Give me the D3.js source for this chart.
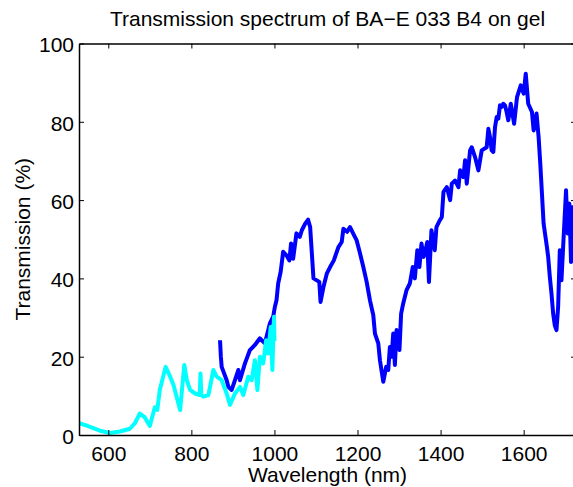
<!DOCTYPE html>
<html>
<head>
<meta charset="utf-8">
<script src="https://cdn.jsdelivr.net/npm/d3@7"></script>
<style>
  body { margin: 0; background: #fff; }
  svg { display: block; }
  text { font-family: "Liberation Sans", Arial, sans-serif; }
</style>
</head>
<body>
<div id="chart"></div>
<script>
// data (wavelength nm, transmission %)
var visWavelength = [530, 545, 556, 580, 604, 628, 652, 664, 676, 688, 700, 712, 718, 724, 738, 749, 757, 773,
  783, 789, 797, 809, 820, 822, 824, 829, 841, 853, 861, 873, 885, 893, 905, 917, 925, 937, 945, 953, 959,
  965, 973, 980, 985, 991, 995, 999, 1000];
var visTransmission = [3.0, 2.5, 2.1, 1.1, 0.5, 0.9, 1.6, 3.0, 5.5, 4.5, 2.3, 7.1, 6.4, 11.5, 17.4, 14.9, 12.8, 6.4,
  17.9, 14.0, 11.5, 10.6, 10.2, 15.7, 10.2, 9.8, 10.2, 16.6, 14.9, 14.0, 10.6, 7.7, 10.6, 12.3, 10.2, 14.9, 14.0, 19.1, 11.5,
  20.0, 18.3, 24.2, 20.8, 27.6, 16.6, 30.2, 24];

var nirWavelength = [869, 871, 873, 885, 889, 897, 905, 913, 917, 929, 941, 953, 965, 977, 989, 997, 1001, 1005, 1009,
  1015, 1021, 1029, 1036, 1040, 1045, 1053, 1061, 1066, 1074, 1081, 1086, 1094, 1102, 1108, 1111, 1118, 1126, 1134,
  1143, 1154, 1162, 1166, 1175, 1182, 1190, 1198, 1206, 1214, 1222, 1230, 1238, 1242, 1250, 1254, 1262, 1269, 1274,
  1278, 1282, 1286, 1290, 1294, 1301, 1305, 1310, 1318, 1326, 1333, 1338, 1344, 1349, 1354, 1359, 1362, 1368, 1372,
  1378, 1386, 1390, 1398, 1403, 1407, 1415, 1423, 1427, 1435, 1443, 1447, 1455, 1459, 1463, 1471, 1475, 1483, 1491,
  1499, 1511, 1515, 1519, 1523, 1527, 1531, 1535, 1539, 1543, 1547, 1551, 1555, 1559, 1563, 1569, 1577, 1584, 1593,
  1600, 1605, 1611, 1620, 1624, 1631, 1636, 1640, 1644, 1648, 1656, 1659, 1663, 1667, 1671, 1675, 1679, 1683, 1687,
  1691, 1695, 1702, 1706, 1710, 1714, 1717, 1722];
var nirTransmission = [24.2, 20, 17.4, 14.0, 12.3, 11.5, 14, 16.6, 14, 18.3, 21.7, 23.0, 24.7, 23.4, 28.5, 30.2, 32.7, 34.4, 38.7,
  41.7, 46.8, 45.9, 44.6, 48.9, 45.0, 51.5, 50.6, 52.3, 54.0, 55.0, 53.1, 40.0, 39.5, 39.1, 34.0, 37.8, 41.2, 42.9,
  44.6, 48.0, 49.3, 52.7, 51.9, 53.1, 51.4, 49.7, 46.4, 42.9, 39.1, 34.4, 30.6, 25.9, 23.4, 19.1, 13.6, 17.4, 16.6,
  22.5, 20, 25.9, 17.9, 26.8, 21.7, 31.0, 33.6, 37.0, 38.7, 42.9, 40.0, 47.2, 42.9, 48.9, 45.5, 46.4, 49.3, 39.1,
  52.3, 47.2, 53.1, 54.8, 55.7, 62.1, 63.3, 60.0, 64.2, 65.0, 63.3, 67.6, 65.9, 70.2, 64.2, 72.7, 73.5, 71.0, 67.6,
  72.7, 73.5, 78.2, 76.1, 72.7, 72.3, 78.6, 81.2, 80.8, 84.2, 83.8, 84.6, 84.2, 82.5, 80.4, 84.6, 79.5, 86.3, 89.3,
  87.2, 92.3, 84.6, 82.5, 77.8, 82.1, 76.1, 69.3, 61.7, 54.0, 48.0, 45.5, 40.4, 36.1, 31.0, 28, 26.8, 32.7, 47.2,
  39.5, 48.0, 62.5, 51.5, 59.1, 44.2, 58.2, 44];

var xTicks = [600, 800, 1000, 1200, 1400, 1600];
var yTicks = [0, 20, 40, 60, 80, 100];

var titleText = "Transmission spectrum of BA\u2212E 033 B4 on gel";
var xLabel = "Wavelength (nm)";
var yLabel = "Transmission (%)";

// chart setup
var svgWidth = 573;
var svgHeight = 487;

var margin = { top: 43.5, right: -3, bottom: 52, left: 79 };
var width = svgWidth - margin.left - margin.right;
var height = svgHeight - margin.top - margin.bottom;

var svg = d3.select("#chart")
  .append("svg")
  .attr("width", svgWidth)
  .attr("height", svgHeight);

var chartGroup = svg.append("g")
  .attr("transform", `translate(${margin.left}, ${margin.top})`);

var xScale = d3.scaleLinear()
  .domain([529.5, 1726])
  .range([0, width]);

var yScale = d3.scaleLinear()
  .domain([0, 100])
  .range([height, 0]);

var fontSize = 21;

// axes, ticks pointing inward like matlab
var xAxis = d3.axisBottom(xScale).tickValues(xTicks).tickFormat(d3.format("d"))
  .tickSizeInner(-5).tickSizeOuter(0).tickPadding(11);
var yAxis = d3.axisLeft(yScale).tickValues(yTicks).tickFormat(d3.format("d"))
  .tickSizeInner(-5).tickSizeOuter(0).tickPadding(5);
var xTop = d3.axisTop(xScale).tickValues(xTicks).tickSizeInner(-5).tickSizeOuter(0).tickFormat("");
var yRight = d3.axisRight(yScale).tickValues(yTicks).tickSizeInner(-5).tickSizeOuter(0).tickFormat("");

function styleAxis(g) {
  g.select(".domain").attr("stroke", "#000").attr("stroke-width", 1.5);
  g.selectAll(".tick line").attr("stroke", "#000").attr("stroke-width", 1);
  g.selectAll(".tick text")
    .attr("fill", "#000")
    .style("font-size", fontSize + "px")
    .style("font-family", "'Liberation Sans', Arial, sans-serif");
}

// data lines
var line = d3.line()
  .x(d => xScale(d[0]))
  .y(d => yScale(d[1]));

var nirData = nirWavelength.map((w, i) => [w, nirTransmission[i]]);
var visData = visWavelength.map((w, i) => [w, visTransmission[i]]);

chartGroup.append("path")
  .datum(nirData)
  .attr("d", line)
  .attr("fill", "none")
  .attr("stroke", "#0000ff")
  .attr("stroke-width", 4)
  .attr("stroke-linejoin", "round");

chartGroup.append("path")
  .datum(visData)
  .attr("d", line)
  .attr("fill", "none")
  .attr("stroke", "#00ffff")
  .attr("stroke-width", 4)
  .attr("stroke-linejoin", "round");

chartGroup.append("g")
  .attr("transform", `translate(0, ${height})`)
  .call(xAxis)
  .call(styleAxis);

chartGroup.append("g")
  .call(yAxis)
  .call(styleAxis)
  .selectAll(".tick text").attr("dy", "0.4em");

chartGroup.append("g")
  .call(xTop)
  .call(styleAxis);

chartGroup.append("g")
  .attr("transform", `translate(${width}, 0)`)
  .call(yRight)
  .call(styleAxis);

// title
svg.append("text")
  .attr("x", margin.left + width / 2)
  .attr("y", 26)
  .attr("text-anchor", "middle")
  .style("font-size", fontSize + "px")
  .text(titleText);

// x axis label
svg.append("text")
  .attr("x", margin.left + width / 2)
  .attr("y", 482)
  .attr("text-anchor", "middle")
  .style("font-size", fontSize + "px")
  .text(xLabel);

// y axis label
svg.append("text")
  .attr("transform", "rotate(-90)")
  .attr("x", -(margin.top + height / 2))
  .attr("y", 30)
  .attr("text-anchor", "middle")
  .style("font-size", fontSize + "px")
  .text(yLabel);
</script>
</body>
</html>
